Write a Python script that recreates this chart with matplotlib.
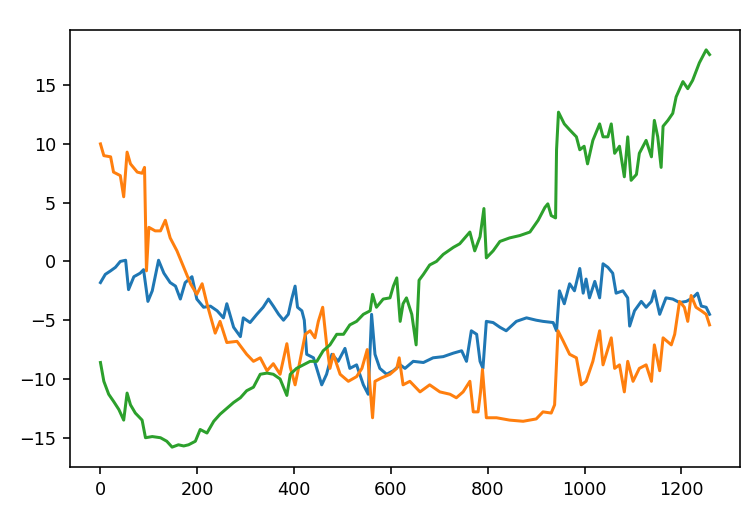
import matplotlib
matplotlib.use("Agg")
import matplotlib.pyplot as plt

# values (index, value) for each of the three series
blue_x = [0, 10, 21, 31, 41, 52, 58, 69, 82, 89, 98, 107, 120, 131, 144, 155, 165, 175, 189, 199,
          213, 227, 241, 254, 261, 275, 289, 295, 309, 323, 336, 347, 357, 368, 378, 388, 395, 402,
          407, 416, 421, 426, 440, 457, 467, 478, 491, 505, 515, 529, 543, 553, 560, 567, 577, 591,
          605, 619, 629, 646, 667, 687, 708, 729, 746, 756, 766, 777, 784, 790, 797, 811, 825, 838,
          859, 880, 900, 914, 935, 942, 948, 958, 969, 979, 990, 997, 1003, 1010, 1021, 1031, 1038,
          1048, 1058, 1065, 1079, 1089, 1093, 1103, 1117, 1127, 1138, 1144, 1155, 1168, 1182, 1196,
          1210, 1223, 1233, 1241, 1251, 1258]
blue_y = [-1.8, -1.1, -0.8, -0.5, 0.0, 0.1, -2.4, -1.3, -1.0, -0.7, -3.4, -2.5, 0.1, -1.0, -1.8,
          -2.1, -3.2, -1.8, -1.3, -3.2, -3.9, -3.8, -4.2, -4.8, -3.6, -5.6, -6.4, -4.8, -5.2, -4.5,
          -3.9, -3.2, -3.8, -4.5, -5.0, -4.5, -3.2, -2.1, -3.9, -4.2, -5.0, -7.9, -8.2, -10.5, -9.6,
          -7.9, -8.5, -7.4, -9.1, -8.8, -10.5, -11.3, -4.5, -7.9, -9.1, -9.6, -9.3, -8.8, -9.1, -8.5,
          -8.6, -8.2, -8.1, -7.8, -7.6, -8.5, -5.9, -6.2, -8.5, -9.1, -5.1, -5.2, -5.6, -5.9, -5.1,
          -4.8, -5.0, -5.1, -5.2, -5.9, -2.5, -3.6, -1.9, -2.5, -0.6, -2.7, -1.5, -3.1, -1.7, -3.1,
          -0.2, -0.5, -1.0, -2.7, -2.5, -3.1, -5.5, -4.2, -3.4, -3.9, -3.4, -2.5, -4.5, -3.1, -3.2,
          -3.5, -3.4, -3.1, -2.7, -3.8, -3.9, -4.5]

orange_x = [0, 7, 21, 27, 41, 48, 55, 62, 76, 86, 91, 95, 100, 113, 124, 134, 144, 158, 172, 186,
            199, 210, 220, 237, 247, 261, 282, 302, 316, 330, 344, 357, 371, 385, 392, 402, 409, 423,
            433, 443, 450, 459, 467, 474, 481, 495, 512, 529, 540, 551, 557, 562, 567, 581, 598, 612,
            617, 625, 639, 660, 680, 701, 722, 735, 749, 763, 770, 780, 785, 789, 797, 818, 845, 873,
            900, 914, 931, 938, 945, 956, 969, 983, 993, 1003, 1017, 1031, 1038, 1055, 1062, 1072,
            1082, 1089, 1100, 1113, 1127, 1138, 1144, 1155, 1162, 1179, 1186, 1196, 1206, 1213,
            1220, 1230, 1241, 1251, 1258]
orange_y = [10.0, 9.0, 8.9, 7.6, 7.3, 5.5, 9.3, 8.3, 7.6, 7.5, 8.0, -0.8, 2.9, 2.6, 2.6, 3.5, 2.0,
            0.9, -0.5, -1.9, -2.8, -1.9, -3.6, -6.1, -5.1, -6.9, -6.8, -7.9, -8.5, -8.2, -9.3, -8.7,
            -9.6, -7.0, -9.0, -10.5, -9.1, -6.2, -5.9, -6.5, -5.1, -3.9, -7.0, -9.1, -7.9, -9.6,
            -10.2, -9.8, -9.1, -7.5, -10.8, -13.3, -10.2, -9.9, -9.6, -9.1, -8.2, -10.5, -10.2,
            -11.1, -10.5, -11.1, -11.3, -11.6, -11.1, -10.2, -12.8, -12.8, -11.1, -9.2, -13.3,
            -13.3, -13.5, -13.6, -13.4, -12.8, -12.9, -12.2, -5.9, -6.8, -7.9, -8.2, -10.5, -10.2,
            -8.5, -5.9, -8.8, -6.5, -9.1, -8.8, -11.1, -8.5, -10.2, -9.1, -8.8, -10.2, -7.1, -9.3,
            -6.5, -7.1, -6.2, -3.4, -3.9, -5.1, -2.9, -3.9, -4.2, -4.5, -5.4]

green_x = [0, 7, 17, 27, 38, 48, 55, 62, 72, 86, 93, 107, 124, 137, 148, 161, 172, 182, 196, 206,
           220, 234, 247, 261, 275, 289, 302, 316, 330, 344, 357, 371, 385, 392, 405, 419, 433, 447,
           460, 474, 488, 502, 515, 529, 543, 557, 562, 570, 584, 598, 605, 612, 619, 625, 632, 643,
           652, 658, 667, 680, 694, 708, 729, 742, 763, 773, 784, 792, 797, 811, 825, 845, 866, 887,
           904, 918, 924, 931, 940, 942, 946, 958, 969, 983, 990, 999, 1006, 1017, 1031, 1038, 1048,
           1055, 1062, 1072, 1082, 1089, 1096, 1107, 1113, 1127, 1138, 1144, 1151, 1158, 1162, 1172,
           1182, 1189, 1203, 1213, 1223, 1237, 1251, 1258]
green_y = [-8.6, -10.2, -11.3, -11.9, -12.6, -13.5, -11.2, -12.2, -12.9, -13.5, -15.0, -14.9, -15.0,
           -15.3, -15.8, -15.6, -15.7, -15.6, -15.3, -14.3, -14.6, -13.6, -13.0, -12.5, -12.0, -11.6,
           -11.0, -10.7, -9.6, -9.5, -9.6, -10.0, -11.4, -9.6, -9.1, -8.8, -8.5, -8.5, -7.6, -7.1,
           -6.2, -6.2, -5.4, -5.1, -4.5, -4.2, -2.8, -3.9, -3.2, -3.1, -2.1, -1.4, -5.1, -3.6, -3.1,
           -4.5, -7.1, -1.6, -1.1, -0.3, 0.0, 0.6, 1.2, 1.5, 2.5, 0.9, 2.1, 4.5, 0.3, 0.9, 1.7, 2.0,
           2.2, 2.5, 3.5, 4.6, 4.9, 3.9, 3.7, 9.5, 12.7, 11.7, 11.2, 10.6, 9.5, 9.8, 8.3, 10.3, 11.7,
           10.6, 10.6, 11.7, 9.2, 9.8, 7.2, 10.6, 6.9, 7.4, 9.2, 10.3, 8.9, 12.0, 10.6, 8.0, 11.5,
           12.0, 12.6, 14.0, 15.3, 14.7, 15.4, 16.9, 18.0, 17.6]

plt.rcParams['font.size'] = 8.8

fig = plt.figure(figsize=(756 / 144, 518 / 144), dpi=144)
ax = fig.add_axes([70 / 756, 51 / 518, 670 / 756, 437 / 518])

ax.plot(blue_x, blue_y)
ax.plot(orange_x, orange_y)
ax.plot(green_x, green_y)

ax.set_yticks([-15, -10, -5, 0, 5, 10, 15])
ax.set_xticks([0, 200, 400, 600, 800, 1000, 1200])

fig.savefig("out.png", dpi=144)
